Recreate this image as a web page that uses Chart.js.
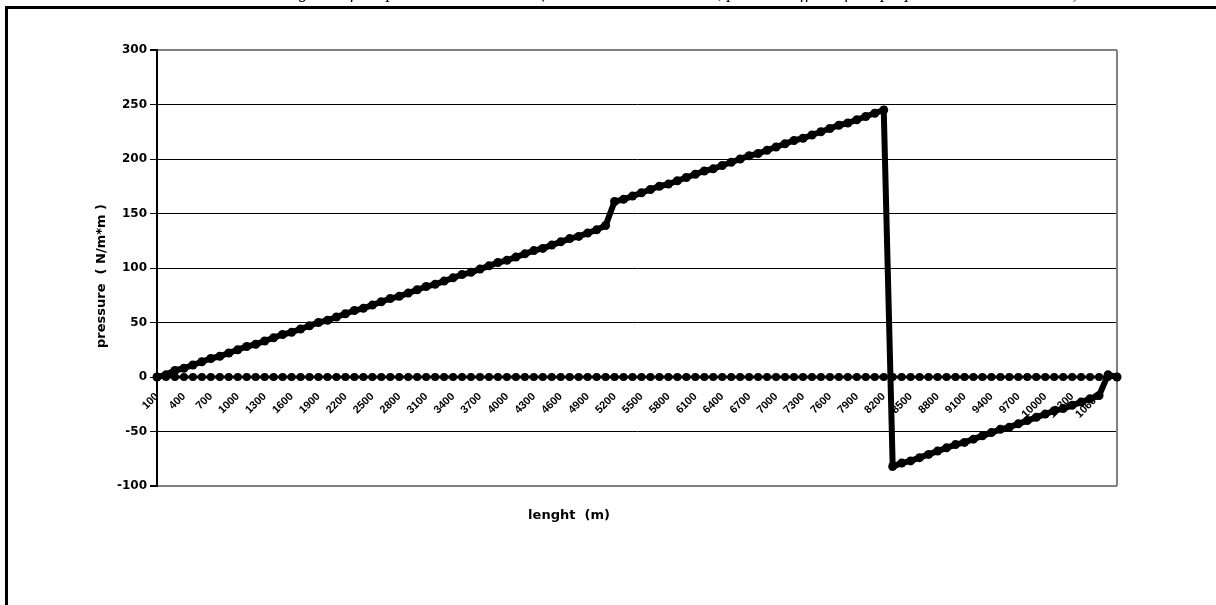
<!DOCTYPE html>
<html>
<head>
<meta charset="utf-8">
<title>pressure along length</title>
<script src="https://cdn.jsdelivr.net/npm/chart.js@4.4.7/dist/chart.umd.min.js"></script>
<style>
  html, body { margin: 0; padding: 0; background: #fff; }
  #wrap { width: 1216px; height: 605px; }
</style>
</head>
<body>
<div id="wrap"><canvas id="chart" width="1216" height="605"></canvas></div>
<script>
// category axis: length in metres
const lengths = [
  100, 200, 300, 400, 500, 600, 700, 800, 900, 1000,
  1100, 1200, 1300, 1400, 1500, 1600, 1700, 1800, 1900, 2000,
  2100, 2200, 2300, 2400, 2500, 2600, 2700, 2800, 2900, 3000,
  3100, 3200, 3300, 3400, 3500, 3600, 3700, 3800, 3900, 4000,
  4100, 4200, 4300, 4400, 4500, 4600, 4700, 4800, 4900, 5000,
  5100, 5200, 5300, 5400, 5500, 5600, 5700, 5800, 5900, 6000,
  6100, 6200, 6300, 6400, 6500, 6600, 6700, 6800, 6900, 7000,
  7100, 7200, 7300, 7400, 7500, 7600, 7700, 7800, 7900, 8000,
  8100, 8200, 8300, 8400, 8500, 8600, 8700, 8800, 8900, 9000,
  9100, 9200, 9300, 9400, 9500, 9600, 9700, 9800, 9900, 10000,
  10100, 10200, 10300, 10400, 10500, 10600, 10700, 10800,
];

// pressure (N/m*m)
const pressure = [
  0, 2, 6, 8, 11, 14, 17, 19, 22, 25,
  28, 30, 33, 36, 39, 41, 44, 47, 50, 52,
  55, 58, 61, 63, 66, 69, 72, 74, 77, 80,
  83, 85, 88, 91, 94, 96, 99, 102, 105, 107,
  110, 113, 116, 118, 121, 124, 127, 129, 132, 135,
  139, 161, 163, 166, 169, 172, 175, 177, 180, 183,
  186, 189, 191, 194, 197, 200, 203, 205, 208, 211,
  214, 217, 219, 222, 225, 228, 231, 233, 236, 239,
  242, 245, -82, -79, -77, -74, -71, -68, -65, -62,
  -60, -57, -54, -51, -48, -46, -43, -40, -37, -34,
  -31, -29, -26, -23, -20, -17, 2, 0,
];

// reference line at zero
const baseline = [
  0, 0, 0, 0, 0, 0, 0, 0, 0, 0,
  0, 0, 0, 0, 0, 0, 0, 0, 0, 0,
  0, 0, 0, 0, 0, 0, 0, 0, 0, 0,
  0, 0, 0, 0, 0, 0, 0, 0, 0, 0,
  0, 0, 0, 0, 0, 0, 0, 0, 0, 0,
  0, 0, 0, 0, 0, 0, 0, 0, 0, 0,
  0, 0, 0, 0, 0, 0, 0, 0, 0, 0,
  0, 0, 0, 0, 0, 0, 0, 0, 0, 0,
  0, 0, 0, 0, 0, 0, 0, 0, 0, 0,
  0, 0, 0, 0, 0, 0, 0, 0, 0, 0,
  0, 0, 0, 0, 0, 0, 0, 0,
];

const yMin = -100;
const yMax = 300;
const yStep = 50;
const labelEvery = 3;

const caption =
  "Diagram of the pressure distribution (static water level at rest, pressure effect of the propeller is not considered)";
const yTitle = "pressure  ( N/m*m )";
const xTitle = "lenght  (m)";

const frameAndTitles = {
  id: "frameAndTitles",
  beforeDraw(chart) {
    const { ctx, width, height } = chart;
    ctx.save();
    ctx.fillStyle = "#fff";
    ctx.fillRect(0, 0, width, height);
    // outer frame, only the left and top edges are in view
    ctx.strokeStyle = "#000";
    ctx.lineWidth = 3;
    ctx.beginPath();
    ctx.moveTo(6.5, height + 10);
    ctx.lineTo(6.5, 7.5);
    ctx.lineTo(width + 10, 7.5);
    ctx.stroke();
    // caption sits above the page, only its descenders show
    ctx.fillStyle = "#000";
    ctx.font = 'italic 18px "Liberation Serif"';
    ctx.textAlign = "center";
    ctx.textBaseline = "alphabetic";
    ctx.fillText(caption, 676, -2.5);
    ctx.restore();
  },
  beforeDatasetsDraw(chart) {
    const { ctx, chartArea } = chart;
    ctx.save();
    ctx.strokeStyle = "#808080";
    ctx.lineWidth = 2;
    ctx.beginPath();
    ctx.moveTo(chartArea.right, chartArea.top);
    ctx.lineTo(chartArea.right, chartArea.bottom);
    ctx.stroke();
    ctx.restore();
  },
  afterDraw(chart) {
    const { ctx } = chart;
    ctx.save();
    ctx.fillStyle = "#000";
    ctx.font = 'bold 13px "DejaVu Sans"';
    ctx.textAlign = "center";
    ctx.textBaseline = "middle";
    ctx.fillText(xTitle, 569, 516);
    ctx.translate(102, 276);
    ctx.rotate(-Math.PI / 2);
    ctx.fillText(yTitle, 0, 0);
    ctx.restore();
  },
};

new Chart(document.getElementById("chart"), {
  type: "line",
  data: {
    labels: lengths,
    datasets: [
      {
        label: "zero",
        data: baseline,
        borderColor: "#000",
        backgroundColor: "#000",
        borderWidth: 3,
        pointRadius: 4,
        pointBorderWidth: 0,
        tension: 0,
        clip: false,
      },
      {
        label: "pressure",
        data: pressure,
        borderColor: "#000",
        backgroundColor: "#000",
        borderWidth: 6,
        pointRadius: 4.5,
        pointBorderWidth: 0,
        tension: 0,
        clip: false,
      },
    ],
  },
  options: {
    responsive: false,
    animation: false,
    devicePixelRatio: 1,
    layout: { padding: { left: 0, top: 50, right: 99, bottom: 119 } },
    plugins: {
      legend: { display: false },
      tooltip: { enabled: false },
    },
    scales: {
      x: {
        position: { y: 0 },
        offset: false,
        grid: { display: false },
        border: { display: true, color: "#000", width: 2 },
        ticks: {
          autoSkip: false,
          minRotation: 45,
          maxRotation: 45,
          padding: 5,
          color: "#000",
          font: { family: "Liberation Sans", size: 11, weight: "bold" },
          callback: (value, index) =>
            index % labelEvery === 0 ? lengths[index] : "",
        },
      },
      y: {
        min: yMin,
        max: yMax,
        afterFit: (scale) => {
          scale.width = 157;
        },
        grid: {
          color: (c) =>
            c.tick && (c.tick.value === yMax || c.tick.value === yMin)
              ? "#808080"
              : "#000",
          lineWidth: (c) =>
            c.tick && (c.tick.value === yMax || c.tick.value === yMin) ? 2 : 1,
          drawTicks: true,
          tickLength: 7,
          tickColor: "#000",
        },
        border: { display: true, color: "#000", width: 2 },
        ticks: {
          stepSize: yStep,
          padding: 3,
          color: "#000",
          font: { family: "DejaVu Sans", size: 12, weight: "bold" },
        },
      },
    },
  },
  plugins: [frameAndTitles],
});
</script>
</body>
</html>
